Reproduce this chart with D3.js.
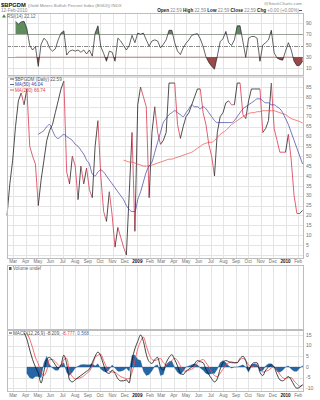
<!DOCTYPE html>
<html>
<head>
<meta charset="utf-8">
<script src="https://cdn.jsdelivr.net/npm/d3@7/dist/d3.min.js"></script>
<style>
  body { margin: 0; background: #fff; }
  svg { display: block; font-family: "Liberation Sans", Arial, sans-serif; }
</style>
</head>
<body>
<svg id="chart" width="320" height="400"></svg>
<script>
// weekly samples, first one is 15-Feb-2008, last one is 12-Feb-2010
const firstWeek = new Date(2008, 1, 15);

// $BPGDM close, one value a week (w0..w104)
const priceVals = [
  20, 36, 48, 65, 78, 82, 76, 84, 55, 50,
  46, 25, 38, 48, 58, 63, 66, 72, 78, 84,
  88, 42, 36, 50, 45, 28, 45, 36, 44, 33,
  29, 55, 68, 40, 22, 17, 32, 20, 4, 14,
  9, 4, 0, 31, 62, 12, 76, 85, 80, 75,
  29, 62, 75, 62, 56, 58, 62, 87, 87, 87,
  66, 59, 65, 70, 72, 76, 80, 84, 84, 72,
  66, 56, 50, 40, 62, 70, 72, 77, 78, 76,
  76, 87, 87, 71, 69, 78, 84, 84, 84, 84,
  62, 64, 68, 87, 64, 58, 52, 52, 52, 61,
  48, 30, 21, 21, 22.59
];

// MA(50) from w11
const ma50Start = 11;
const ma50Vals = [
  61, 62, 63, 65, 66, 63, 60, 59, 60, 61,
  60, 59, 58, 56, 55, 53, 51, 48, 46, 41,
  40, 42, 43, 42, 40, 38, 36, 34, 32, 30,
  28, 25, 23, 22, 22, 28, 32, 37, 42, 45,
  47, 52, 57, 62, 67, 69, 71, 72, 73, 72,
  71, 70, 72, 74, 76, 75, 75, 74, 75, 74,
  72, 70, 68, 67, 67, 67, 67, 67, 67, 68,
  70, 72, 74, 75, 76, 77, 78, 79, 79, 78,
  77, 77, 76, 76, 75, 74, 72, 69, 66, 62,
  58, 54, 50, 46.04
];

// MA(200) from w41
const ma200Start = 41;
const ma200Vals = [
  48, 47.5, 47, 47, 46.5, 46, 45.5, 45, 45, 45,
  45.5, 46, 46.5, 47, 47.5, 48, 48.5, 48.5, 49, 49.5,
  50, 50.5, 51, 51.5, 52, 53, 54, 55, 56, 56.5,
  57, 57, 58, 59.5, 61, 62, 63, 64.5, 66, 67,
  68, 69, 70, 71, 71.5, 72, 72, 72.5, 72.5, 73,
  73, 73, 73, 73, 72.5, 72, 71.5, 71, 70, 69,
  68.5, 68, 67.5, 66.74
];

// RSI(14) from w3
const rsiStart = 3;
const rsiVals = [
  93, 88, 92, 93, 80, 50, 42, 48, 13, 52,
  63, 58, 45, 40, 44, 60, 72, 76, 33, 40,
  42, 40, 42, 38, 42, 35, 42, 31, 72, 85,
  48, 36, 22, 40, 38, 22, 63, 58, 50, 42,
  50, 68, 55, 72, 70, 72, 60, 49, 58, 60,
  58, 46, 52, 60, 77, 77, 55, 40, 34, 46,
  54, 60, 68, 70, 71, 62, 48, 30, 20, 13,
  8, 31, 57, 62, 75, 55, 50, 60, 85, 85,
  57, 29, 63, 66, 66, 63, 22, 51, 55, 60,
  77, 37, 28, 25, 24, 40, 55, 42, 22, 14,
  15, 22.12
];

// MACD(12,26,9) line from w6, signal and histogram from w7
const macdStart = 6, signalStart = 7;
const macdVals = [
  16, 13, 8, 3.5, 0, -3, -7.5, -2, 3.5, 4.5,
  3, 1, -0.5, 1, 5.5, 1.5, -6, -7, -6, -5,
  -4, -3, -2, -1, 2, 5, 7, 5, 1, -2.5,
  -3, -1.5, -3, -5.5, -6.5, -6.5, -6, -7.5, 3, 8.5,
  12, 15, 12, 6, 2.5, 1.7, 3.5, 4.5, 0, -1.5,
  2, 4.5, 5.8, 3.5, 0.5, -3, -3.5, -2, -1, 0,
  1.5, 3, 2.5, 2, -1, -3.5, -5.5, -7, -5.5, -1,
  2, 3, 2.5, 2, 2, 2, 4, 5, 3, -1.5,
  1, 2, 2, -2.5, -4, -1.5, 0, 1, 0, -3.5,
  -6, -6.5, -5.5, -4.5, -6, -8.5, -10, -9.5, -8.209
];
const signalVals = [
  16, 13, 9, 4.5, 1.5, -2.5, -4, -1.5, 3.5, 3.5,
  2.5, 1, 0, 3.5, 4, -2, -4.5, -5.5, -5.3, -5,
  -4.2, -3, -2, 0.5, 4.5, 5.5, 6, 3, 0, -2,
  -2.4, -2.5, -3.5, -4.5, -5, -5.5, -5.5, -2.5, 3, 8.5,
  12, 14, 10, 6, 3.5, 3, 3.5, 4, 2, 1,
  2, 3, 4, 3, 0.5, -1.5, -2, -1.5, -1, 0,
  2, 3, 3.5, 2, 0, -2.5, -4, -4.5, -3, -1,
  1, 2, 2.5, 2, 2, 3.5, 4, 3, 1, 0,
  0.5, 1, -0.5, -2.4, -2, -1.5, -0.5, 0, -1.5, -3.5,
  -5, -5.5, -5, -5, -6.5, -8, -9, -8.777
];
const histVals = [
  -3, -5, -5.5, -4.5, -4.5, -5, 2, 5, 1, -0.5,
  -1.5, -1.5, 1, 2, -2.5, -4, -2.5, -0.5, 0.3, 1,
  1.2, 1, 1, 1.5, 0.5, 1.5, -1, -2, -2.5, -1,
  0.9, -0.5, -2, -2, -1.5, -0.5, -2, 5.5, 5.5, 3.5,
  3, -2, -4, -3.5, -1.8, 0.5, 1, -4, -3.5, 1,
  2.5, 2.8, -0.5, -2.5, -3.5, -2, 0, 0.5, 1, 1.5,
  1, -0.5, -1.5, -3, -3.5, -3, -3, -1, 2, 3,
  2, 0.5, -0.5, 0, 0, 0.5, 1, 0, -2.5, 1,
  1.5, 1, -2, -1.6, 0.5, 1.5, 1.5, 0, -2, -2.5,
  -1.5, 0, 0.5, -1, -2, -2, -0.5, 0.568
];

const rsiTicks = [90, 70, 50, 30, 10],
  mainTicks = d3.range(0, 86, 5),
  macdTicks = [15, 10, 5, 0, -5, -10];

const svg = d3.select('#chart'),
  left = 7,
  right = 303,
  gridCol = '#e4e4e4',
  borderCol = '#bdbdbd',
  upCol = '#222',
  downCol = '#d9364f',
  weekDate = i => d3.timeDay.offset(firstWeek, i * 7),
  x = d3.scaleTime()
    .domain([new Date(2008, 1, 15), new Date(2010, 1, 13)])
    .range([left, right]),
  months = d3.timeMonth.range(new Date(2008, 2, 1), new Date(2010, 1, 2)),
  rsiP = { top: 13, bottom: 75 },
  mainP = { top: 76.5, bottom: 258 },
  volP = { top: 265, bottom: 329 },
  macdP = { top: 330, bottom: 391 },
  yR = d3.scaleLinear().domain([10, 90]).range([68, 23]),
  yP = d3.scaleLinear().domain([0, 85]).range([255, 87]),
  yM = d3.scaleLinear().domain([-10, 15]).range([388.3, 335]);

const toPts = (vals, start) => vals.map((v, i) => ({ d: weekDate(start + i), v: v }));

// panel with month grid lines
const drawPanel = (p) => {
  const g = svg.append('g');
  g.selectAll('line.vg')
    .data(months)
    .enter()
    .append('line')
    .attr('x1', d => Math.round(x(d)) + 0.5)
    .attr('x2', d => Math.round(x(d)) + 0.5)
    .attr('y1', p.top)
    .attr('y2', p.bottom)
    .attr('stroke', gridCol)
    .attr('stroke-width', 1);
  return g;
};

const hGrid = (g, p, ticks, y, col) => {
  g.selectAll(null)
    .data(ticks)
    .enter()
    .append('line')
    .attr('x1', left).attr('x2', right)
    .attr('y1', d => Math.round(y(d)) + 0.5)
    .attr('y2', d => Math.round(y(d)) + 0.5)
    .attr('stroke', col || gridCol);
};

const frame = (p) => {
  svg.append('rect')
    .attr('x', left + 0.5).attr('y', p.top + 0.5)
    .attr('width', right - left).attr('height', p.bottom - p.top)
    .attr('fill', 'none').attr('stroke', borderCol);
};

const rightAxis = (ticks, y) => {
  svg.append('g')
    .selectAll('text')
    .data(ticks)
    .enter()
    .append('text')
    .attr('x', 306)
    .attr('y', d => y(d))
    .attr('dy', '0.35em')
    .attr('font-size', 5)
    .attr('fill', '#707070')
    .text(d => d);
};

const monthAxis = (yPos) => {
  svg.append('g')
    .selectAll('text')
    .data(months)
    .enter()
    .append('text')
    .attr('x', d => x(d))
    .attr('y', yPos)
    .attr('text-anchor', 'middle')
    .attr('font-size', 4.6)
    .attr('font-weight', d => d.getMonth() === 0 ? 'bold' : 'normal')
    .attr('fill', d => d.getMonth() === 0 ? '#111' : '#707070')
    .text(d => d.getMonth() === 0 ? d3.timeFormat('%Y')(d) : d3.timeFormat('%b')(d));
};

// ---------- header ----------
svg.append('text')
  .attr('x', 1).attr('y', 7)
  .attr('font-size', 5.8).attr('font-weight', 'bold').attr('fill', '#111')
  .text('$BPGDM');
svg.append('text')
  .attr('x', 28).attr('y', 6.8)
  .attr('font-size', 4.3).attr('fill', '#888')
  .text('(Gold Miners Bullish Percent Index (BGDI)) INDX');
svg.append('text')
  .attr('x', 302).attr('y', 4.5).attr('text-anchor', 'end')
  .attr('font-size', 4.4).attr('fill', '#888')
  .text('@StockCharts.com');
svg.append('text')
  .attr('x', 1).attr('y', 12)
  .attr('font-size', 4.6).attr('fill', '#888')
  .text('12-Feb-2010');

const quote = [['Open', '22.59'], ['High', '22.59'], ['Low', '22.59'], ['Close', '22.59'], ['Chg', '+0.00 (+0.00%)']];
const qt = svg.append('text')
  .attr('x', 299).attr('y', 12).attr('text-anchor', 'end')
  .attr('font-size', 4.6);
quote.forEach(q => {
  qt.append('tspan').attr('font-weight', 'bold').attr('fill', '#222').text(q[0] + ' ');
  qt.append('tspan').attr('fill', '#888').text(q[1] + ' ');
});
svg.append('line')
  .attr('x1', 299).attr('x2', 302).attr('y1', 10.5).attr('y2', 10.5)
  .attr('stroke', '#222').attr('stroke-width', 0.8);

// ---------- RSI panel ----------
const gR = drawPanel(rsiP);
hGrid(gR, rsiP, [90, 10], yR);
hGrid(gR, rsiP, [70, 30], yR, '#a8a8a8');
gR.append('line')
  .attr('x1', left).attr('x2', right)
  .attr('y1', Math.round(yR(50)) + 0.5).attr('y2', Math.round(yR(50)) + 0.5)
  .attr('stroke', '#8a8a8a').attr('stroke-dasharray', '4,1,1,1');

const rsiPts = toPts(rsiVals, rsiStart),
  defs = svg.append('defs');
defs.append('clipPath').attr('id', 'rsiHigh')
  .append('rect').attr('x', left).attr('y', rsiP.top).attr('width', right - left).attr('height', yR(70) - rsiP.top);
defs.append('clipPath').attr('id', 'rsiLow')
  .append('rect').attr('x', left).attr('y', yR(30)).attr('width', right - left).attr('height', rsiP.bottom - yR(30));

gR.append('path')
  .attr('d', d3.area().x(d => x(d.d)).y0(yR(70)).y1(d => yR(d.v))(rsiPts))
  .attr('fill', '#5e8c5c').attr('clip-path', 'url(#rsiHigh)');
gR.append('path')
  .attr('d', d3.area().x(d => x(d.d)).y0(yR(30)).y1(d => yR(d.v))(rsiPts))
  .attr('fill', '#9b4848').attr('clip-path', 'url(#rsiLow)');
gR.append('path')
  .attr('d', d3.line().x(d => x(d.d)).y(d => yR(d.v))(rsiPts))
  .attr('fill', 'none').attr('stroke', '#222').attr('stroke-width', 0.7);
frame(rsiP);
rightAxis(rsiTicks, yR);
svg.append('path')
  .attr('d', 'M2,17.5 L4,14.3 L6,17.5 Z')
  .attr('fill', '#4f7f4f');
svg.append('text')
  .attr('x', 7).attr('y', 17.6)
  .attr('font-size', 4.6).attr('fill', '#666')
  .text('RSI(14) 22.12');

// ---------- price panel ----------
const gP = drawPanel(mainP);
hGrid(gP, mainP, mainTicks, yP);

const pricePts = toPts(priceVals, 0),
  segs = d3.pairs(pricePts);
let lastCol = upCol;
gP.selectAll('line.seg')
  .data(segs)
  .enter()
  .append('line')
  .attr('x1', d => x(d[0].d)).attr('y1', d => yP(d[0].v))
  .attr('x2', d => x(d[1].d)).attr('y2', d => yP(d[1].v))
  .attr('stroke', d => {
    if (d[1].v > d[0].v) lastCol = upCol;
    else if (d[1].v < d[0].v) lastCol = downCol;
    return lastCol;
  })
  .attr('stroke-width', 0.8);

gP.append('path')
  .attr('d', d3.line().x(d => x(d.d)).y(d => yP(d.v)).curve(d3.curveMonotoneX)(toPts(ma200Vals, ma200Start)))
  .attr('fill', 'none').attr('stroke', '#f04848').attr('stroke-width', 0.7);
gP.append('path')
  .attr('d', d3.line().x(d => x(d.d)).y(d => yP(d.v)).curve(d3.curveMonotoneX)(toPts(ma50Vals, ma50Start)))
  .attr('fill', 'none').attr('stroke', '#3c3ca0').attr('stroke-width', 0.7);
frame(mainP);
rightAxis(mainTicks, yP);

const legend = [
  { label: '$BPGDM (Daily) 22.59', col: '#222' },
  { label: 'MA(50) 46.04', col: '#3c3ca0' },
  { label: 'MA(200) 66.74', col: '#e03c3c' }
];
const lg = svg.append('g');
legend.forEach((l, i) => {
  const yy = 80.5 + i * 5.5;
  lg.append('line')
    .attr('x1', 10).attr('x2', 14).attr('y1', yy - 1.5).attr('y2', yy - 1.5)
    .attr('stroke', l.col).attr('stroke-width', 0.8);
  lg.append('text')
    .attr('x', 15).attr('y', yy)
    .attr('font-size', 4.6).attr('fill', l.col === '#222' ? '#555' : l.col)
    .text(l.label);
});

monthAxis(263);

// ---------- volume panel ----------
drawPanel(volP);
frame(volP);
svg.append('rect')
  .attr('x', 9).attr('y', 267).attr('width', 2.5).attr('height', 3)
  .attr('fill', '#555');
svg.append('text')
  .attr('x', 13).attr('y', 270.2)
  .attr('font-size', 4.6).attr('fill', '#666')
  .text('Volume undef');

// ---------- MACD panel ----------
const gM = drawPanel(macdP);
hGrid(gM, macdP, macdTicks, yM);

gM.append('path')
  .attr('d', d3.area().x(d => x(d.d)).y0(yM(0)).y1(d => yM(d.v))(toPts(histVals, signalStart)))
  .attr('fill', '#2466a6').attr('stroke', '#1b4f85').attr('stroke-width', 0.3);
gM.append('path')
  .attr('d', d3.line().x(d => x(d.d)).y(d => yM(d.v)).curve(d3.curveMonotoneX)(toPts(signalVals, signalStart)))
  .attr('fill', 'none').attr('stroke', '#f24a4a').attr('stroke-width', 0.8);
gM.append('path')
  .attr('d', d3.line().x(d => x(d.d)).y(d => yM(d.v)).curve(d3.curveMonotoneX)(toPts(macdVals, macdStart)))
  .attr('fill', 'none').attr('stroke', '#111').attr('stroke-width', 0.8);
frame(macdP);
rightAxis(macdTicks, yM);

svg.append('line')
  .attr('x1', 9).attr('x2', 12).attr('y1', 333).attr('y2', 333)
  .attr('stroke', '#111').attr('stroke-width', 0.8);
const mt = svg.append('text')
  .attr('x', 13).attr('y', 334.6)
  .attr('font-size', 4.6);
mt.append('tspan').attr('fill', '#555').text('MACD(12,26,9) -8.209, ');
mt.append('tspan').attr('fill', '#e04848').text('-8.777, ');
mt.append('tspan').attr('fill', '#3a6fb0').text('0.568');

monthAxis(397);
</script>
</body>
</html>
